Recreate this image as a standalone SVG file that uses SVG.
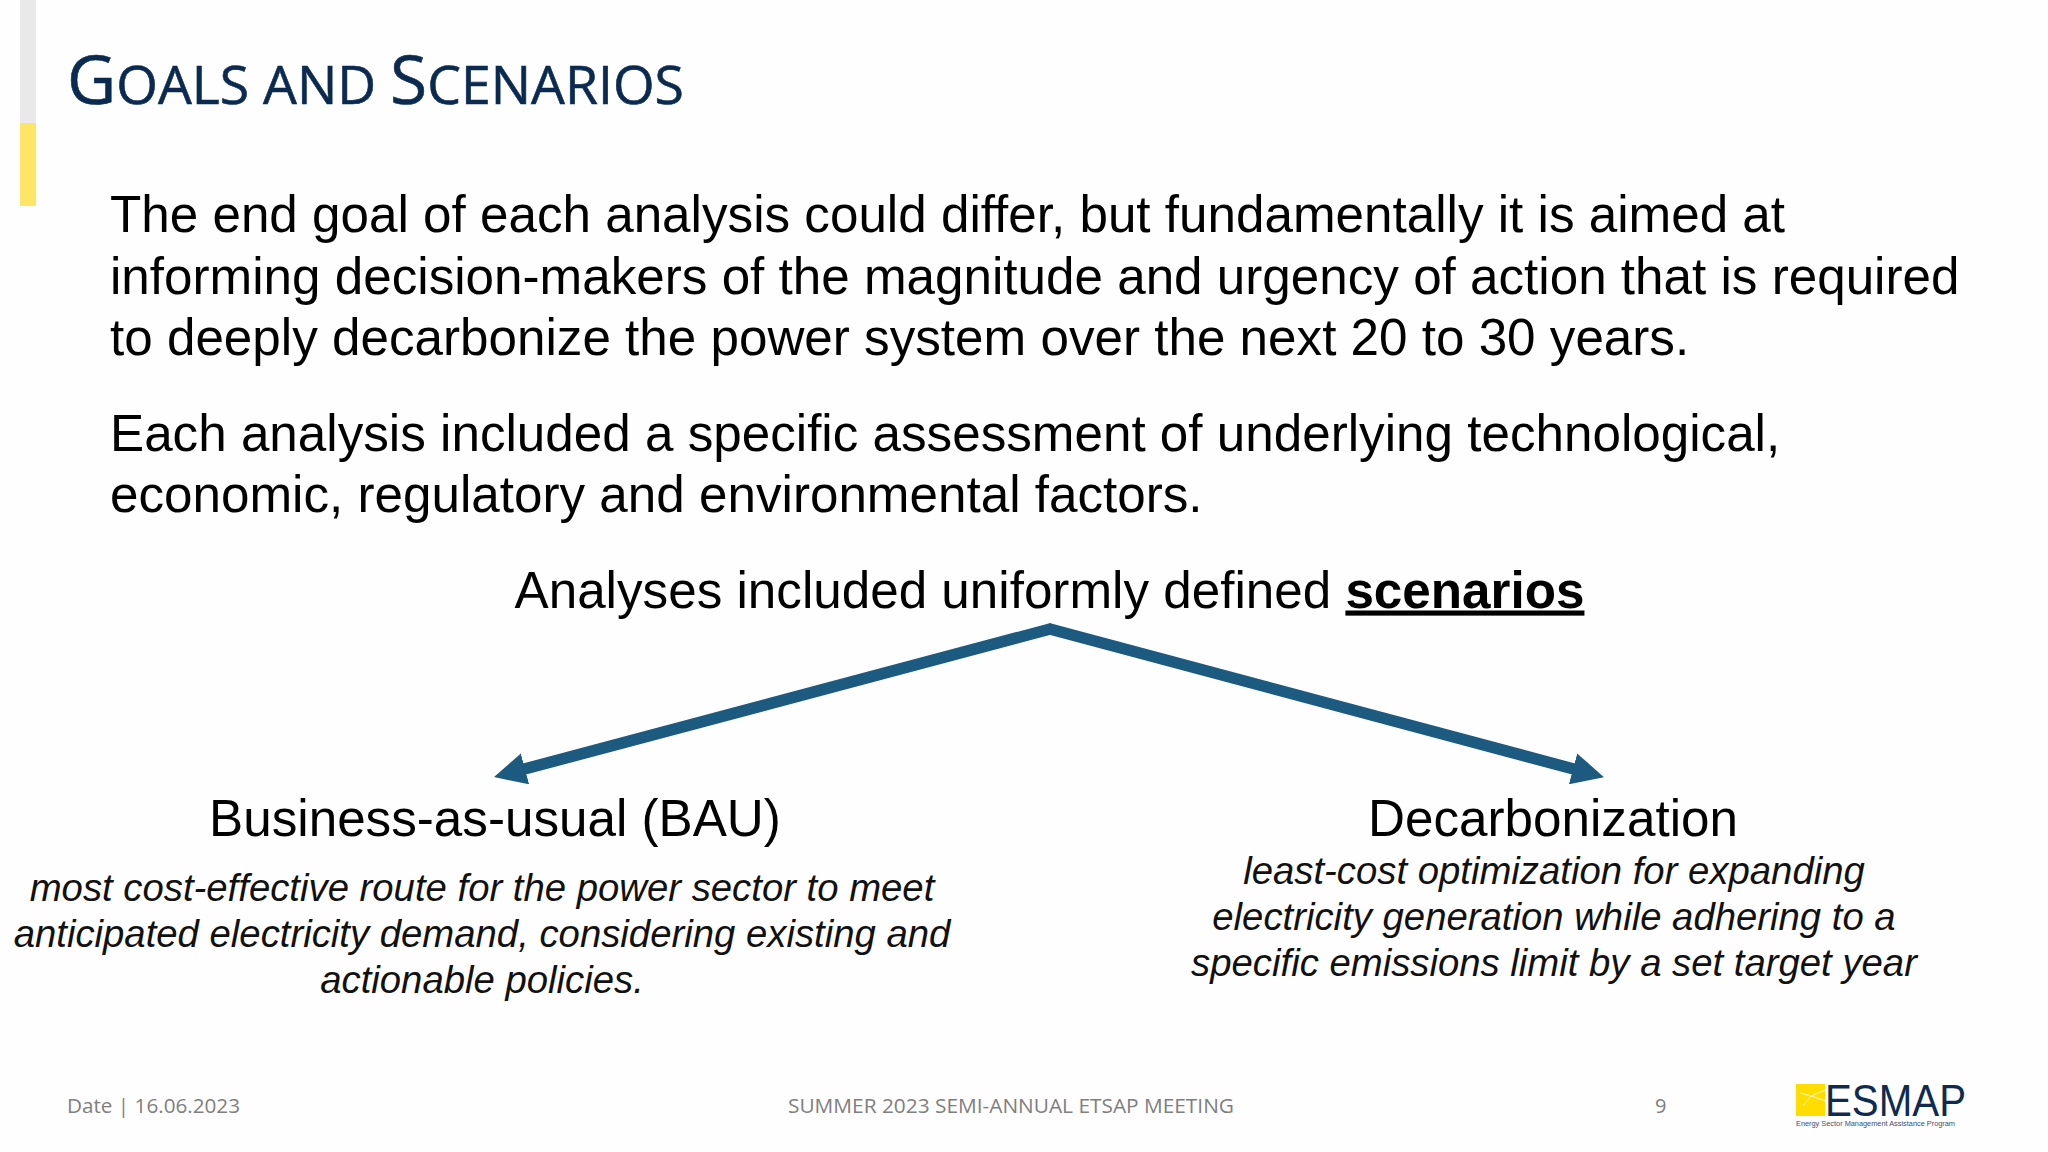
<svg xmlns="http://www.w3.org/2000/svg" width="2048" height="1152" viewBox="0 0 2048 1152">
<style>
.b{font-family:"Liberation Sans",Arial,sans-serif;font-size:51.2px;fill:#000}
.h{font-family:"Liberation Sans",Arial,sans-serif;font-size:51.2px;fill:#000;text-anchor:middle}
.i{font-family:"Liberation Sans",Arial,sans-serif;font-size:38.3px;font-style:italic;fill:#111;text-anchor:middle}
.f{font-family:"Open Sans",sans-serif;font-size:20px;fill:#7f7f7f}
.t{font-family:"Open Sans",sans-serif;fill:#0b2a50;stroke:#0b2a50;stroke-width:.6}
.c{fill:none;stroke:#1c5a80;stroke-width:11.5}
</style>
<defs>
<marker id="a" markerUnits="userSpaceOnUse" markerWidth="32" markerHeight="32" refX="14" refY="14" orient="auto" viewBox="0 0 28 28"><path d="M0 0L28 14L0 28Z" fill="#1c5a80"/></marker>
</defs>
<rect width="2048" height="1152" fill="#fefefe"/>
<g id="sidebar"><rect x="20" y="0" width="16" height="123" fill="#e9e9e9"/><rect x="20" y="123" width="16" height="83" fill="#ffe566"/></g>
<g id="title"><text class="t" x="67" y="103.5" font-size="67" textLength="617" lengthAdjust="spacingAndGlyphs">G<tspan font-size="53">OALS AND </tspan>S<tspan font-size="53">CENARIOS</tspan></text></g>
<g id="intro">
<text class="b" x="110" y="232">The end goal of each analysis could differ, but fundamentally it is aimed at</text>
<text class="b" x="110" y="293.5">informing decision-makers of the magnitude and urgency of action that is required</text>
<text class="b" x="110" y="355">to deeply decarbonize the power system over the next 20 to 30 years.</text>
<text class="b" x="110" y="451">Each analysis included a specific assessment of underlying technological,</text>
<text class="b" x="110" y="512">economic, regulatory and environmental factors.</text>
</g>
<g id="root"><text class="h" x="1049.5" y="607.5">Analyses included uniformly defined <tspan font-weight="700" text-decoration="underline">scenarios</tspan></text></g>
<g id="connectors">
<path class="c" d="M1052 628.5L509.5 773" marker-end="url(#a)"/>
<path class="c" d="M1048 628.5L1588.5 773" marker-end="url(#a)"/>
</g>
<g id="bau">
<text class="h" x="495" y="835.5">Business-as-usual (BAU)</text>
<text class="i" x="482" y="901">most cost-effective route for the power sector to meet</text>
<text class="i" x="482" y="947">anticipated electricity demand, considering existing and</text>
<text class="i" x="482" y="993">actionable policies.</text>
</g>
<g id="decarb">
<text class="h" x="1553" y="835.5">Decarbonization</text>
<text class="i" x="1554" y="884">least-cost optimization for expanding</text>
<text class="i" x="1554" y="930">electricity generation while adhering to a</text>
<text class="i" x="1554" y="976">specific emissions limit by a set target year</text>
</g>
<g id="footer">
<text class="f" x="67" y="1113" textLength="173" lengthAdjust="spacingAndGlyphs">Date | 16.06.2023</text>
<text class="f" x="788" y="1113" textLength="446" lengthAdjust="spacingAndGlyphs">SUMMER 2023 SEMI-ANNUAL ETSAP MEETING</text>
<text class="f" x="1655" y="1113">9</text>
</g>
<g id="logo">
<rect x="1796" y="1084" width="29" height="32" fill="#ffdd00"/>
<path d="M1811 1096L1825 1090M1811 1096L1800 1093M1811 1096L1803 1106M1811 1096L1826 1101" stroke="#fff8c0" stroke-width="1" fill="none"/>
<text x="1825" y="1116" font-family="Liberation Sans,sans-serif" font-size="44" fill="#0f2b50" textLength="141" lengthAdjust="spacingAndGlyphs">ESMAP</text>
<text x="1796" y="1126" font-family="Liberation Sans,sans-serif" font-size="7.5" fill="#3b4f6b" textLength="159" lengthAdjust="spacingAndGlyphs">Energy Sector Management Assistance Program</text>
</g>
</svg>
